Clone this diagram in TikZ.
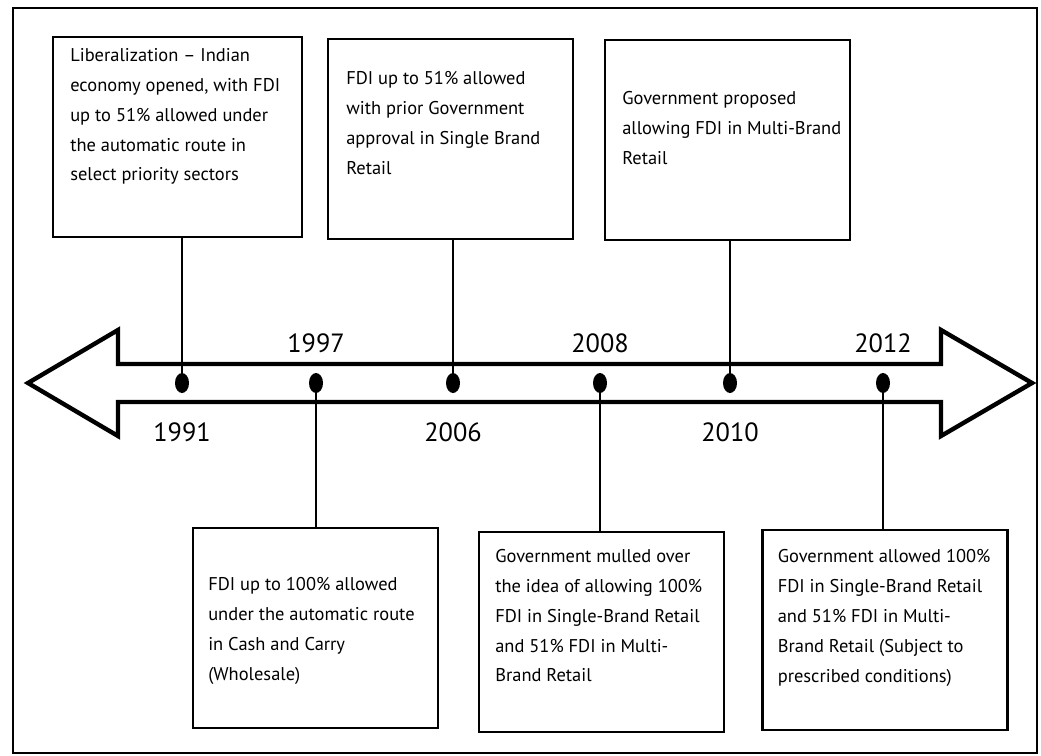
\documentclass[tikz,border=0pt]{standalone}
\usepackage{fontspec}
\setmainfont{PT Sans}
\usepackage{tikz}
\usetikzlibrary{positioning}
\usetikzlibrary{shapes.geometric}
\tikzstyle{eventbox}=[draw, line width=1.2pt, minimum width=4.9cm, minimum height=4cm, anchor=north, inner sep=0]
\tikzstyle{eventtext}=[align=left, inner sep=0, font={\fontsize{10.5}{17}\selectfont}]
\tikzstyle{yeardot}=[ellipse, fill=black, minimum width=0.28cm, minimum height=0.4cm, inner sep=0]
\tikzstyle{yearlabel}=[inner sep=0, font={\fontsize{15}{18}\selectfont}]
\tikzstyle{link}=[line width=.8pt]
\tikzstyle{timeline}=[line width=2.5pt, line join=miter]
\tikzstyle{frame}=[line width=1pt]

\begin{document}
\begin{tikzpicture}

    \useasboundingbox (0, 0) rectangle (20.82, -15.10);
    \draw[frame] (0.26, -0.16) rectangle (20.74, -15.06);

    % the two-way arrow
    \draw[timeline] (0.56, -7.66) -- (2.36, -6.60) -- (2.36, -7.28) -- (18.82, -7.28)
        -- (18.82, -6.60) -- (20.64, -7.66) -- (18.82, -8.72) -- (18.82, -8.04)
        -- (2.36, -8.04) -- (2.36, -8.72) -- cycle;

    \node[yeardot] (d1991) at (3.64, -7.66) {};
    \node[yeardot] (d1997) at (6.32, -7.66) {};
    \node[yeardot] (d2006) at (9.06, -7.66) {};
    \node[yeardot] (d2008) at (12.00, -7.66) {};
    \node[yeardot] (d2010) at (14.60, -7.66) {};
    \node[yeardot] (d2012) at (17.66, -7.66) {};

    \node[yearlabel, below=0.58cm of d1991] (y1991) {1991};
    \node[yearlabel, above=0.38cm of d1997] (y1997) {1997};
    \node[yearlabel, below=0.58cm of d2006] (y2006) {2006};
    \node[yearlabel, above=0.38cm of d2008] (y2008) {2008};
    \node[yearlabel, below=0.58cm of d2010] (y2010) {2010};
    \node[yearlabel, above=0.38cm of d2012] (y2012) {2012};

    % boxes above the arrow
    \node[eventbox, minimum width=4.98cm] (box1991) at (3.55, -0.72) {};
    \node[eventtext, below right=0.24cm and 0.36cm of box1991.north west] (text1991)
        {Liberalization -- Indian\\ economy opened, with FDI\\ up to 51\% allowed under\\ the automatic route in\\ select priority sectors};

    \node[eventbox] (box2006) at (9.01, -0.76) {};
    \node[eventtext, below right=0.66cm and 0.38cm of box2006.north west] (text2006)
        {FDI up to 51\% allowed\\ with prior Government\\ approval in Single Brand\\ Retail};

    \node[eventbox] (box2010) at (14.55, -0.78) {};
    \node[eventtext, below right=1.04cm and 0.36cm of box2010.north west] (text2010)
        {Government proposed\\ allowing FDI in Multi-Brand\\ Retail};

    % boxes below the arrow
    \node[eventbox] (box1997) at (6.31, -10.54) {};
    \node[eventtext, below right=1.0cm and 0.32cm of box1997.north west] (text1997)
        {FDI up to 100\% allowed\\ under the automatic route\\ in Cash and Carry\\ (Wholesale)};

    \node[eventbox] (box2008) at (12.03, -10.62) {};
    \node[eventtext, below right=0.36cm and 0.34cm of box2008.north west] (text2008)
        {Government mulled over\\ the idea of allowing 100\%\\ FDI in Single-Brand Retail\\ and 51\% FDI in Multi-\\ Brand Retail};

    \node[eventbox] (box2012) at (17.70, -10.58) {};
    \node[eventtext, below right=0.4cm and 0.32cm of box2012.north west] (text2012)
        {Government allowed 100\%\\ FDI in Single-Brand Retail\\ and 51\% FDI in Multi-\\ Brand Retail (Subject to\\ prescribed conditions)};

    \draw[link] (d1991) -- (d1991 |- box1991.south);
    \draw[link] (d2006) -- (d2006 |- box2006.south);
    \draw[link] (d2010) -- (d2010 |- box2010.south);
    \draw[link] (d1997) -- (d1997 |- box1997.north);
    \draw[link] (d2008) -- (d2008 |- box2008.north);
    \draw[link] (d2012) -- (d2012 |- box2012.north);

\end{tikzpicture}
\end{document}
